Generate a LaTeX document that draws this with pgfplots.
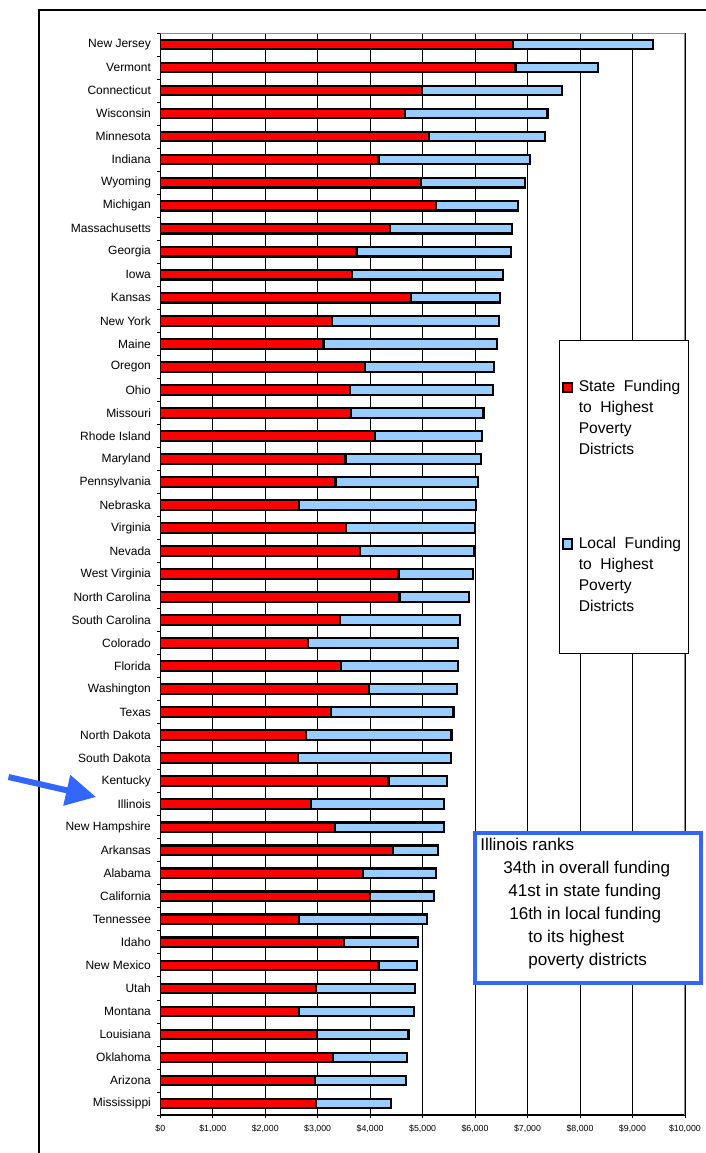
\documentclass[border=0pt]{standalone}
\usepackage{fontspec}
\setmainfont{Liberation Sans}
\usepackage{pgfplots}
\usepackage{pgfplotstable}
\pgfplotsset{compat=1.18}
\usetikzlibrary{arrows.meta}
\definecolor{statered}{RGB}{255,0,0}
\definecolor{localblue}{RGB}{153,204,255}
\definecolor{annblue}{RGB}{51,102,255}

\pgfplotstableread{
idx state local
0 6730 2670
1 6770 1575
2 4990 2660
3 4670 2710
4 5120 2220
5 4160 2890
6 4970 1980
7 5250 1570
8 4380 2320
9 3740 2940
10 3660 2880
11 4780 1700
12 3280 3180
13 3110 3310
14 3900 2460
15 3620 2730
16 3630 2530
17 4090 2050
18 3530 2590
19 3340 2720
20 2650 3360
21 3540 2460
22 3810 2180
23 4540 1420
24 4560 1330
25 3420 2290
26 2810 2870
27 3440 2230
28 3980 1670
29 3250 2340
30 2780 2770
31 2630 2915
32 4350 1110
33 2870 2540
34 3330 2070
35 4430 860
36 3870 1390
37 3990 1220
38 2650 2440
39 3500 1410
40 4160 730
41 2960 1890
42 2650 2180
43 2990 1740
44 3300 1410
45 2950 1730
46 2960 1440
}\fundtable

\begin{document}
\begin{tikzpicture}
\begin{scope}[x=0.75pt,y=0.75pt]
\useasboundingbox (0,0) rectangle (702,1153);
\draw[black, line width=1pt] (39,0) -- (39,1143) -- (710,1143);
\end{scope}
\begin{axis}[
  at={(120.225pt,28.5pt)}, anchor=south west,
  scale only axis, width=393.45pt, height=811.5pt,
  xbar stacked, bar width=7.2pt,
  xmin=0, xmax=10000, ymin=-0.5, ymax=46.5,
  y dir=reverse,
  axis x line*=bottom, axis y line*=left,
  axis line style={black, line width=0.8pt},
  scaled x ticks=false,
  xtick={0,1000,...,10000},
  xticklabels={{\$0},{\$1,000},{\$2,000},{\$3,000},{\$4,000},{\$5,000},{\$6,000},{\$7,000},{\$8,000},{\$9,000},{\$10,000}},
  xticklabel style={font=\fontsize{6.6}{8}\selectfont, yshift=-1.5pt},
  ytick={-0.5,0.5,...,46.5},
  yticklabels={},
  extra y ticks={0,1,...,46},
  extra y tick labels={New Jersey,Vermont,Connecticut,Wisconsin,Minnesota,Indiana,Wyoming,Michigan,Massachusetts,Georgia,Iowa,Kansas,New York,Maine,Oregon,Ohio,Missouri,Rhode Island,Maryland,Pennsylvania,Nebraska,Virginia,Nevada,West Virginia,North Carolina,South Carolina,Colorado,Florida,Washington,Texas,North Dakota,South Dakota,Kentucky,Illinois,New Hampshire,Arkansas,Alabama,California,Tennessee,Idaho,New Mexico,Utah,Montana,Louisiana,Oklahoma,Arizona,Mississippi},
  extra y tick style={major tick length=0pt, yticklabel style={font=\fontsize{9}{10}\selectfont, xshift=-3.5pt}},
  tick align=outside, major tick length=2.5pt,
  tick style={black, line width=0.6pt},
  xmajorgrids, major grid style={black, line width=0.6pt},
  legend style={at={(0.76,0.716)}, anchor=north west, draw=black, line width=0.5pt, fill=white,
    inner xsep=2pt, inner ysep=28pt, row sep=56pt,
    font=\fontsize{11.7}{15.75}\selectfont, cells={align=left},
    nodes={inner xsep=3.6pt}},
  legend cell align=left,
]
\addplot[fill=statered, draw=black, line width=1.6pt,
  legend image code/.code={\draw[overlay, fill=statered, draw=black, line width=1.4pt] (0.5pt,19.8pt) rectangle (7.5pt,26.8pt);\path[draw=none, fill=none] (0pt,-3pt) rectangle (9pt,3pt);}]
  table[x=state, y=idx] {\fundtable};
\addlegendentry{State\ \ Funding\\to\ \ Highest\\Poverty\\Districts}
\addplot[fill=localblue, draw=black, line width=1.6pt,
  legend image code/.code={\draw[overlay, fill=localblue, draw=black, line width=1.4pt] (0.5pt,19.8pt) rectangle (7.5pt,26.8pt);\path[draw=none, fill=none] (0pt,-3pt) rectangle (9pt,3pt);}]
  table[x=local, y=idx] {\fundtable};
\addlegendentry{Local\ \ Funding\\to\ \ Highest\\Poverty\\Districts}
\draw[black!45, line width=1.5pt] (axis description cs:0,1) -- (axis description cs:1,1) -- (axis description cs:1,0);
\end{axis}
\begin{scope}[x=0.75pt,y=0.75pt]
\draw[annblue, line width=3pt, fill=white] (474.5,170) rectangle (700.5,319.5);
\begin{scope}[every node/.style={anchor=base west, inner sep=0pt, font=\fontsize{12.8}{15}\selectfont}]
\node at (480,302.5) {Illinois ranks};
\node at (503,279.5) {34th in overall funding};
\node at (508,256.5) {41st in state funding};
\node at (509,233.5) {16th in local funding};
\node at (528,210.5) {to its highest};
\node at (528,187.5) {poverty districts};
\end{scope}
\draw[annblue, line width=4.5pt, -{Triangle[length=22.5pt, width=22.5pt]}] (8.5,376) -- (96,356);
\end{scope}
\end{tikzpicture}
\end{document}
